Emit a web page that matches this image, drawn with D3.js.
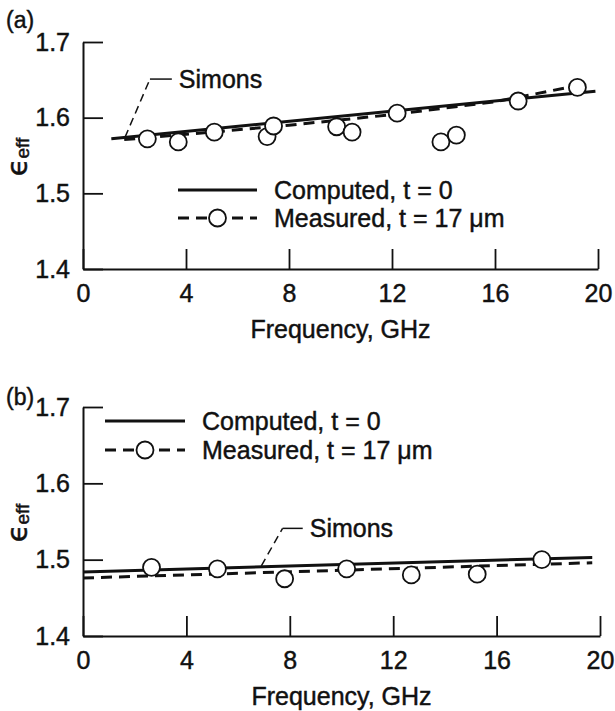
<!DOCTYPE html>
<html>
  <head>
    <meta charset="utf-8" />
    <script src="https://d3js.org/d3.v7.min.js"></script>
    <style>
      body { margin: 0; background: #fff; }
      text { font-family: "Liberation Sans", Arial, sans-serif; fill: #111; stroke: #111; stroke-width: 0.45px; }
    </style>
  </head>
  <body>
    <svg id="chart" width="615" height="711"></svg>
    <script>
      // axis ticks
      const freqTicks = [0, 4, 8, 12, 16, 20];
      const epsTicks = [1.4, 1.5, 1.6, 1.7];

      // panel (a)
      const aMeasFreq = [2.5, 3.7, 5.1, 7.15, 7.4, 9.85, 10.45, 12.2, 13.9, 14.5, 16.9, 19.2];
      const aMeasEps = [1.572, 1.568, 1.581, 1.575, 1.589, 1.588, 1.581, 1.606, 1.568, 1.577, 1.622, 1.64];
      const aCompFreq = [1.1, 19.9];
      const aCompEps = [1.572, 1.635];
      const aFitFreq = [1.6, 4, 8, 12, 16, 19.6];
      const aFitEps = [1.571, 1.578, 1.590, 1.604, 1.621, 1.645];

      // panel (b)
      const bMeasFreq = [2.65, 5.2, 7.8, 10.2, 12.7, 15.25, 17.75];
      const bMeasEps = [1.49, 1.488, 1.475, 1.488, 1.48, 1.481, 1.5];
      const bCompFreq = [0, 19.7];
      const bCompEps = [1.484, 1.503];
      const bFitFreq = [0, 19.7];
      const bFitEps = [1.476, 1.496];

      const svg = d3.select("#chart");
      const font = "Liberation Sans, Arial, sans-serif";

      function zip(xs, ys) {
        return xs.map((x, i) => ({ f: x, e: ys[i] }));
      }

      function panel(p) {
        const x = d3.scaleLinear().domain([0, 20]).range([p.left, p.right]);
        const y = d3.scaleLinear().domain([1.4, 1.7]).range([p.bottom, p.top]);
        const g = svg.append("g");

        const xAxis = g.append("g")
          .attr("transform", `translate(0, ${p.bottom})`)
          .call(d3.axisBottom(x).tickValues(freqTicks).tickFormat(d3.format("d"))
            .tickSizeInner(-20).tickSizeOuter(0).tickPadding(15));
        const yAxis = g.append("g")
          .attr("transform", `translate(${p.left}, 0)`)
          .call(d3.axisLeft(y).tickValues(epsTicks).tickFormat(d3.format(".1f"))
            .tickSizeInner(-20).tickSizeOuter(0).tickPadding(13));
        [xAxis, yAxis].forEach((a) => {
          a.attr("font-family", font).attr("font-size", 25);
          a.select(".domain").attr("stroke", "#111").attr("stroke-width", 2);
          a.selectAll(".tick line").attr("stroke", "#111").attr("stroke-width", 1.8);
          a.selectAll(".tick text").attr("fill", "#111");
        });

        g.append("text")
          .attr("x", (p.left + p.right) / 2)
          .attr("y", p.bottom + 69)
          .attr("text-anchor", "middle")
          .attr("font-size", 25)
          .text("Frequency, GHz");

        const yl = g.append("text")
          .attr("transform", `translate(27, ${p.ylabelY}) rotate(-90)`)
          .attr("text-anchor", "middle");
        yl.append("tspan").attr("font-size", 29).attr("font-family", "DejaVu Sans").text("\u03F5");
        yl.append("tspan").attr("font-size", 19).attr("dy", 2).text("eff");

        g.append("text")
          .attr("x", 6)
          .attr("y", p.labelY)
          .attr("font-size", 23)
          .text(p.label);

        const line = d3.line().x((d) => x(d.f)).y((d) => y(d.e));

        g.append("path")
          .datum(zip(p.fitFreq, p.fitEps))
          .attr("d", line)
          .attr("fill", "none")
          .attr("stroke", "#111")
          .attr("stroke-width", 3)
          .attr("stroke-dasharray", "11,7");
        g.append("path")
          .datum(zip(p.compFreq, p.compEps))
          .attr("d", line)
          .attr("fill", "none")
          .attr("stroke", "#111")
          .attr("stroke-width", 3);

        g.append("g")
          .selectAll("circle")
          .data(zip(p.measFreq, p.measEps))
          .enter()
          .append("circle")
          .attr("cx", (d) => x(d.f))
          .attr("cy", (d) => y(d.e))
          .attr("r", 8.5)
          .attr("fill", "#fff")
          .attr("stroke", "#111")
          .attr("stroke-width", 1.8);

        // Simons leader
        const s = p.simons;
        g.append("path")
          .attr("d", `M${x(s.f0)},${y(s.e0)}L${x(s.f1)},${y(s.e1)}`)
          .attr("fill", "none")
          .attr("stroke", "#111")
          .attr("stroke-width", 1.5)
          .attr("stroke-dasharray", "8,5");
        g.append("path")
          .attr("d", `M${x(s.f1)},${y(s.e1)}L${x(s.f2)},${y(s.e1)}`)
          .attr("stroke", "#111")
          .attr("stroke-width", 1.5);
        g.append("text")
          .attr("x", x(s.f2) + 7)
          .attr("y", y(s.e1) + 9)
          .attr("font-size", 25)
          .text("Simons");

        // legend
        const L = p.legend;
        const lg = g.append("g");
        lg.append("line")
          .attr("x1", L.x0).attr("x2", L.x1).attr("y1", L.y0).attr("y2", L.y0)
          .attr("stroke", "#111").attr("stroke-width", 3);
        lg.append("line")
          .attr("x1", L.x0).attr("x2", L.x1).attr("y1", L.y1).attr("y2", L.y1)
          .attr("stroke", "#111").attr("stroke-width", 3)
          .attr("stroke-dasharray", "11,7");
        lg.append("circle")
          .attr("cx", (L.x0 + L.x1) / 2).attr("cy", L.y1).attr("r", 8.5)
          .attr("fill", "#fff").attr("stroke", "#111").attr("stroke-width", 1.8);
        lg.append("text").attr("x", L.x1 + 17).attr("y", L.y0 + 9)
          .attr("font-size", 25).text("Computed, t = 0");
        lg.append("text").attr("x", L.x1 + 17).attr("y", L.y1 + 9)
          .attr("font-size", 25).text("Measured, t = 17 \u03BCm");
      }

      panel({
        left: 83, right: 598, top: 42, bottom: 269,
        label: "(a)", labelY: 28, ylabelY: 157,
        measFreq: aMeasFreq, measEps: aMeasEps,
        compFreq: aCompFreq, compEps: aCompEps,
        fitFreq: aFitFreq, fitEps: aFitEps,
        simons: { f0: 1.63, e0: 1.574, f1: 2.6, e1: 1.651, f2: 3.45 },
        legend: { x0: 178, x1: 257, y0: 190, y1: 218 },
      });

      panel({
        left: 83, right: 600, top: 407, bottom: 636,
        label: "(b)", labelY: 405, ylabelY: 523,
        measFreq: bMeasFreq, measEps: bMeasEps,
        compFreq: bCompFreq, compEps: bCompEps,
        fitFreq: bFitFreq, fitEps: bFitEps,
        simons: { f0: 6.9, e0: 1.492, f1: 7.72, e1: 1.541, f2: 8.5 },
        legend: { x0: 105, x1: 185, y0: 421, y1: 450 },
      });
    </script>
  </body>
</html>
